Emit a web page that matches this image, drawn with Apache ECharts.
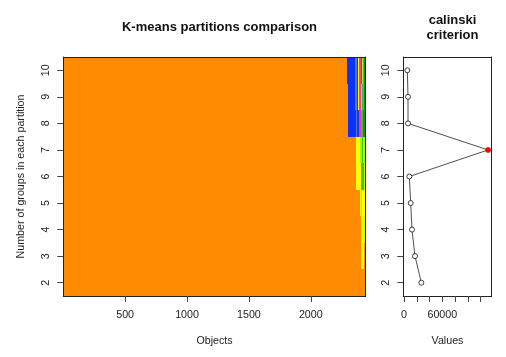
<!DOCTYPE html>
<html><head><meta charset="utf-8">
<script src="https://cdn.jsdelivr.net/npm/echarts@6/dist/echarts.min.js"></script>
<style>html,body{margin:0;padding:0;background:#fff}#c{width:506px;height:357px}</style>
</head><body><div id="c"></div>
<script>
// ---- data ----
const nObjects = 2443;
const groups = [2, 3, 4, 5, 6, 7, 8, 9, 10];
// partition segment sizes (objects, sorted as drawn) and cluster ids per row
const k2Sizes = [2443];                                   const k2Ids = [0];
const k3Sizes = [2406, 24, 13];                           const k3Ids = [0, 4, 0];
const k4Sizes = [2403, 15, 25];                           const k4Ids = [0, 4, 10];
const k5Sizes = [2393, 12, 11, 27];                       const k5Ids = [0, 4, 7, 4];
const k6Sizes = [2364, 42, 24, 13];                       const k6Ids = [0, 4, 8, 10];
const k7Sizes = [2362, 37, 12, 12, 10, 10];               const k7Ids = [0, 4, 7, 8, 10, 7];
const k8Sizes = [2301, 60, 10, 15, 6, 11, 22, 18];        const k8Ids = [0, 1, 2, 3, 4, 5, 8, 9];
const k9Sizes = [2301, 56, 17, 10, 8, 11, 14, 14, 12];    const k9Ids = [0, 1, 2, 3, 4, 5, 7, 8, 9];
const k10Sizes = [2295, 62, 17, 10, 8, 11, 10, 10, 10, 10]; const k10Ids = [0, 1, 2, 3, 4, 5, 6, 7, 8, 9];
// calinski criterion per number of groups (2..10)
const calinski = [27150, 17230, 12530, 10440, 8360, 131600, 6270, 6270, 5220];
const xTicksObjects = [500, 1000, 1500, 2000];
const xTicksValues = [0, 20000, 40000, 60000, 80000, 100000, 120000];
const xLabelsValues = [0, 60000];

// ---- styles ----
const palette = ['#FF8C00', '#0A32FF', '#5A7AB8', '#1438F5', '#FFFF00', '#FF2FC8',
                 '#FF2020', '#9CFF00', '#33CC22', '#1E8C1E', '#CCFF00'];

const sizesByK = [k2Sizes, k3Sizes, k4Sizes, k5Sizes, k6Sizes, k7Sizes, k8Sizes, k9Sizes, k10Sizes];
const idsByK = [k2Ids, k3Ids, k4Ids, k5Ids, k6Ids, k7Ids, k8Ids, k9Ids, k10Ids];
const segData = [];
groups.forEach((k, i) => {
  let start = 1;
  sizesByK[i].forEach((sz, j) => {
    segData.push([start, start + sz - 1, k, idsByK[i][j]]);
    start += sz;
  });
});
const lineData = groups.map((k, i) => {
  const isMax = calinski[i] === Math.max(...calinski);
  return isMax ? {value: [calinski[i], k], itemStyle: {color: '#FF0000', borderColor: '#FF0000'}}
               : {value: [calinski[i], k]};
});

const FONT = '"Liberation Sans", Arial, sans-serif';
const txt = {fontFamily: FONT, fontSize: 10.7, color: '#222'};
const plain = v => String(v);
const frameLine = {show: true, onZero: false, lineStyle: {color: '#222', width: 1}};
const tickStyle = {show: true, inside: false, length: 6, lineStyle: {color: '#444', width: 1}};
function frameAxis(extra) {
  return Object.assign({type: 'value', z: 10, axisLine: frameLine, axisTick: {show: false},
    axisLabel: {show: false}, splitLine: {show: false}}, extra);
}

const chart = echarts.init(document.getElementById('c'), null, {renderer: 'canvas'});
chart.setOption({
  animation: false,
  backgroundColor: '#fff',
  title: [
    {text: 'K-means partitions comparison', left: 214.5, top: 16, textAlign: 'center',
     textStyle: {fontFamily: FONT, fontWeight: 'bold', fontSize: 13, color: '#111'}},
    {text: 'calinski\ncriterion', left: 447.5, top: 8, textAlign: 'center',
     textStyle: {fontFamily: FONT, fontWeight: 'bold', fontSize: 13, lineHeight: 15, color: '#111'}}
  ],
  grid: [
    {left: 63.3, right: 140.3, top: 57, bottom: 61},
    {left: 403.3, right: 14.3, top: 57, bottom: 61}
  ],
  xAxis: [
    frameAxis({gridIndex: 0, position: 'bottom', min: 0.5, max: nObjects + 0.5,
      axisTick: Object.assign({customValues: xTicksObjects}, tickStyle),
      axisLabel: Object.assign({show: true, customValues: xTicksObjects, margin: 14, formatter: plain}, txt),
      name: 'Objects', nameLocation: 'middle', nameGap: 40, nameTextStyle: txt}),
    frameAxis({gridIndex: 0, position: 'top', min: 0.5, max: nObjects + 0.5}),
    frameAxis({gridIndex: 1, position: 'bottom', min: -1100, max: 137250,
      axisTick: Object.assign({customValues: xTicksValues}, tickStyle),
      axisLabel: Object.assign({show: true, customValues: xLabelsValues, margin: 14, formatter: plain}, txt),
      name: 'Values', nameLocation: 'middle', nameGap: 40, nameTextStyle: txt}),
    frameAxis({gridIndex: 1, position: 'top', min: -1100, max: 137250})
  ],
  yAxis: [
    frameAxis({gridIndex: 0, position: 'left', min: 1.5, max: 10.5,
      axisTick: Object.assign({customValues: groups}, tickStyle),
      axisLabel: Object.assign({show: true, customValues: groups, rotate: 90, margin: 12, formatter: plain}, txt),
      name: 'Number of groups in each partition', nameLocation: 'middle', nameGap: 37,
      nameRotate: 90, nameTextStyle: txt}),
    frameAxis({gridIndex: 0, position: 'right', min: 1.5, max: 10.5}),
    frameAxis({gridIndex: 1, position: 'left', min: 1.5, max: 10.5,
      axisTick: Object.assign({customValues: groups}, tickStyle),
      axisLabel: Object.assign({show: true, customValues: groups, rotate: 90, margin: 12, formatter: plain}, txt)}),
    frameAxis({gridIndex: 1, position: 'right', min: 1.5, max: 10.5})
  ],
  series: [
    {
      type: 'custom', xAxisIndex: 0, yAxisIndex: 0, clip: true,
      encode: {x: [0, 1], y: 2},
      data: segData,
      renderItem: function (params, api) {
        const p1 = api.coord([api.value(0) - 0.5, api.value(2) + 0.5]);
        const p2 = api.coord([api.value(1) + 0.5, api.value(2) - 0.5]);
        const x1 = Math.round(p1[0]), x2 = Math.round(p2[0]);
        const y1 = Math.round(p1[1]), y2 = Math.round(p2[1]);
        const c = palette[api.value(3)];
        return {type: 'rect', shape: {x: x1, y: y1, width: Math.max(x2 - x1, 1), height: y2 - y1},
                style: {fill: c}};
      }
    },
    {
      type: 'line', xAxisIndex: 2, yAxisIndex: 2, data: lineData,
      symbol: 'circle', symbolSize: 5, showAllSymbol: true,
      lineStyle: {color: '#222', width: 0.8},
      itemStyle: {color: '#fff', borderColor: '#111', borderWidth: 0.8},
      emphasis: {disabled: true}
    }
  ]
});
</script></body></html>
